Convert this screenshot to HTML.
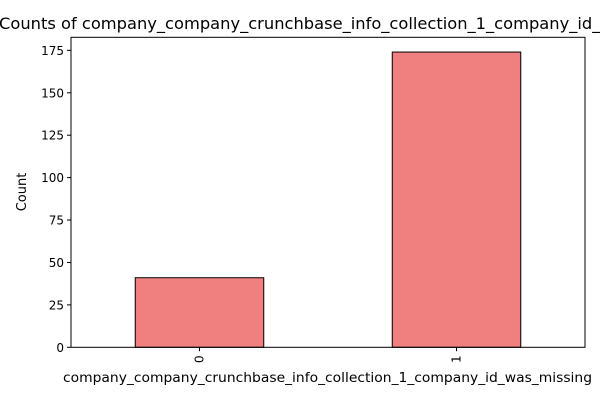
<!DOCTYPE html>
<html><head><meta charset="utf-8"><style>
body{margin:0;background:#fff;font-family:"Liberation Sans","DejaVu Sans",sans-serif}
svg text{font-family:"DejaVu Sans","Liberation Sans",sans-serif;fill:#000}
</style></head><body>
<svg id="chart" width="600" height="400" xmlns="http://www.w3.org/2000/svg">
<text x="-1" y="29" font-size="16.3" text-anchor="start">Counts of company_company_crunchbase_info_collection_1_company_id_was_missing</text>
<g id="plot"></g>
<text transform="translate(26,192) rotate(-90)" font-size="13" text-anchor="middle">Count</text>
<text x="63" y="382" font-size="13" textLength="529" lengthAdjust="spacingAndGlyphs">company_company_crunchbase_info_collection_1_company_id_was_missing</text>
</svg>
<script>
const categories = ["0","1"];
const counts = [41,174];
const yTicks = [0,25,50,75,100,125,150,175];
const L=71,R=585,T=37.3,B=347.3;
const yMax=Math.max(...counts)*1.05;
const y=v=>B-(v/yMax)*(B-T);
const x=i=>L+(i+0.5)/categories.length*(R-L);
const bw=(R-L)/categories.length*0.5;
const g=document.getElementById('plot');
const NS='http://www.w3.org/2000/svg';
function mk(t,a){const e=document.createElementNS(NS,t);for(const k in a)e.setAttribute(k,a[k]);g.appendChild(e);return e;}
counts.forEach((c,i)=>{
 const r=mk('rect',{x:x(i)-bw/2,y:y(c),width:bw,height:B-y(c),fill:'#f08080',stroke:'#000','stroke-width':1});
 
 
 const tk=mk('line',{x1:x(i),x2:x(i),y1:B,y2:B+4,stroke:'#000'});
 
 
 const tl=mk('text',{x:0,y:0,'font-size':12,'text-anchor':'end',transform:`translate(${x(i)+4},${B+8}) rotate(-90)`});
 tl.textContent=categories[i];
 
 
});
yTicks.forEach(v=>{
 const tk=mk('line',{x1:L-4,x2:L,y1:y(v),y2:y(v),stroke:'#000'});
 
 
 const tl=mk('text',{x:L-7,y:y(v)+4.5,'font-size':12,'text-anchor':'end'});
 tl.textContent=v;
 
 
});
const fr=mk('rect',{x:L,y:T,width:R-L,height:B-T,fill:'none',stroke:'#000','stroke-width':1});


</script>
</body></html>
